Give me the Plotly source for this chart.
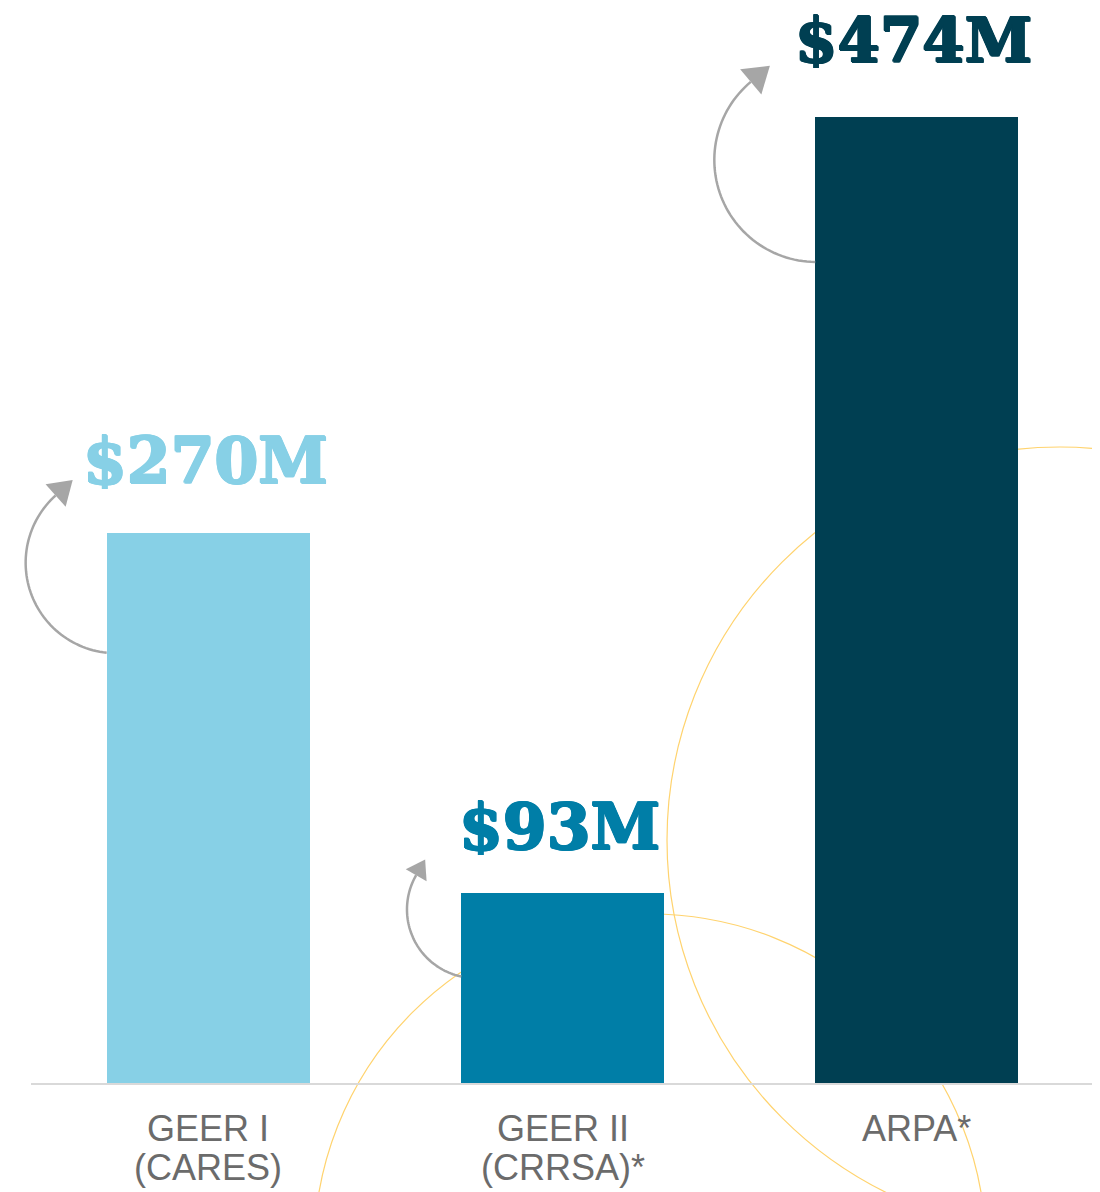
import numpy as np
import plotly.graph_objects as go

# ---------------- data ----------------
categories = ["GEER I", "GEER II", "ARPA*"]
category_sublabels = ["(CARES)", "(CRRSA)*", ""]
values = [270, 93, 474]
value_labels = ["$270M", "$93M", "$474M"]
bar_colors = ["#87D0E6", "#007EA7", "#003F52"]

# ---------------- layout constants ----------------
OFF = 8                      # page body margin offset
FIG_W, FIG_H = 1092, 1184
M_L, M_T = 23, 0
PLOT_W = 1063
PLOT_H = 1075
M_R = FIG_W - M_L - PLOT_W
M_B = FIG_H - M_T - PLOT_H
X_RANGE = (-0.5, 2.5)
Y_MAX = 474 * PLOT_H / 966
BAR_WIDTH = 0.573

GREY = "#A6A6A6"
YELLOW = "#FFD36E"
TEXT_GREY = "#6B6B6B"


def x_px(v):  # page pixel
    return OFF + M_L + (v - X_RANGE[0]) / (X_RANGE[1] - X_RANGE[0]) * PLOT_W


def y_px(v):  # page pixel
    return OFF + M_T + PLOT_H * (1 - v / Y_MAX)


def to_paper(px, py):  # page pixel -> paper
    return (px - OFF - M_L) / PLOT_W, 1 - (py - OFF - M_T) / PLOT_H


xs = list(range(len(categories)))

fig = go.Figure()
fig.add_trace(go.Bar(
    x=xs, y=values, width=BAR_WIDTH,
    marker=dict(color=bar_colors, line=dict(width=0)),
    hoverinfo="skip",
))

shapes = []

# decorative yellow circles (page pixel centre / radius)
for cx, cy, r in [(1060, 840, 393), (650, 1250, 336)]:
    x0, y0 = to_paper(cx - r, cy + r)
    x1, y1 = to_paper(cx + r, cy - r)
    shapes.append(dict(type="circle", xref="paper", yref="paper",
                       x0=x0, y0=y0, x1=x1, y1=y1, layer="below",
                       line=dict(color=YELLOW, width=1.2)))

# curved arrows: centre offset from bar's top-left corner, radius, angles, head length/width
arrow_style = [
    dict(dx=9.5, dy=30, r=90.5, a0=96, a1=228, hl=23, hw=30),
    dict(dx=14.6, dy=16, r=68.6, a0=102, a1=210, hl=18, hw=24),
    dict(dx=1, dy=43, r=102, a0=90.6, a1=230, hl=25, hw=33),
]
for i, (v, st) in enumerate(zip(values, arrow_style)):
    left = x_px(i - BAR_WIDTH / 2)
    top = y_px(v)
    cx, cy = left + st["dx"], top + st["dy"]
    ang = np.radians(np.linspace(st["a0"], st["a1"], 60))
    pts = [to_paper(cx + st["r"] * np.cos(a), cy + st["r"] * np.sin(a)) for a in ang]
    path = "M " + " L ".join(f"{p[0]:.5f},{p[1]:.5f}" for p in pts)
    shapes.append(dict(type="path", xref="paper", yref="paper", path=path,
                       line=dict(color=GREY, width=2.5)))
    a = np.radians(st["a1"])
    ex, ey = cx + st["r"] * np.cos(a), cy + st["r"] * np.sin(a)
    tx, ty = -np.sin(a), np.cos(a)
    nx, ny = -ty, tx
    tip = (ex + tx * st["hl"], ey + ty * st["hl"])
    b1 = (ex + nx * st["hw"] / 2, ey + ny * st["hw"] / 2)
    b2 = (ex - nx * st["hw"] / 2, ey - ny * st["hw"] / 2)
    tri = [to_paper(*p) for p in (tip, b1, b2)]
    tpath = "M " + " L ".join(f"{p[0]:.5f},{p[1]:.5f}" for p in tri) + " Z"
    shapes.append(dict(type="path", xref="paper", yref="paper", path=tpath,
                       fillcolor=GREY, line=dict(width=0)))

annotations = []
label_shift = [72, 66, 77]
label_size = [63, 63, 61]
for i, (v, lab, c, s, fs) in enumerate(zip(values, value_labels, bar_colors, label_shift, label_size)):
    thick = ", ".join(f"{dx}px {dy}px 0px {c}" for dx, dy in
                      [(1, 0), (-1, 0), (0, 1), (0, -1), (1, 1), (-1, -1)])
    annotations.append(dict(
        x=i, y=v, xref="x", yref="y", text=lab, showarrow=False,
        yanchor="middle", xanchor="center", yshift=s, xshift=-3,
        height=56, valign="middle",
        font=dict(family="DejaVu Serif", size=fs, color=c, weight="bold", shadow=thick),
    ))

for i, (l1, l2) in enumerate(zip(categories, category_sublabels)):
    for txt, sh in [(l1, -45), (l2, -84)]:
        if not txt:
            continue
        annotations.append(dict(
            x=i, y=0, xref="x", yref="paper", text=txt, showarrow=False,
            yanchor="middle", xanchor="center", yshift=sh,
            font=dict(family="Liberation Sans, Arial", size=36, color=TEXT_GREY),
        ))

fig.update_layout(
    width=FIG_W, height=FIG_H,
    margin=dict(l=M_L, r=M_R, t=M_T, b=M_B, pad=0),
    paper_bgcolor="white", plot_bgcolor="rgba(0,0,0,0)",
    showlegend=False, bargap=0,
    shapes=shapes, annotations=annotations,
    xaxis=dict(range=list(X_RANGE), showline=True, linecolor="#D9D9D9", linewidth=2,
               showticklabels=False, showgrid=False, zeroline=False, ticks="", fixedrange=True),
    yaxis=dict(range=[0, Y_MAX], visible=False, showgrid=False, zeroline=False, fixedrange=True),
)

fig.write_html("out.html", config={"displayModeBar": False})
